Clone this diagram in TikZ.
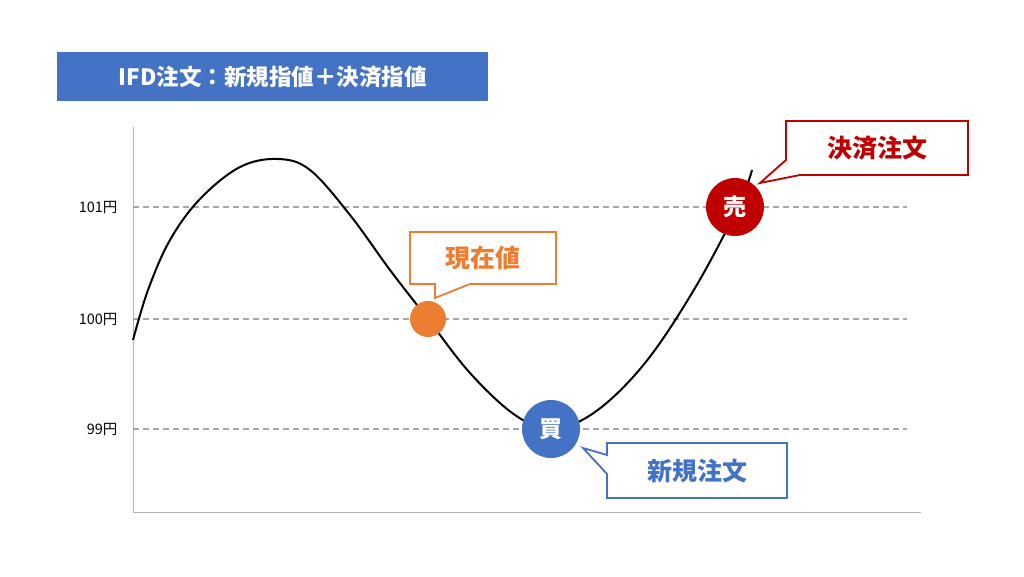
\documentclass[tikz,border=0pt]{standalone}
\usepackage{fontspec}
\setmainfont{Noto Sans CJK JP}
\definecolor{cblue}{HTML}{4472C4}
\definecolor{corange}{HTML}{ED7D31}
\definecolor{cred}{HTML}{C00000}
\begin{document}
\begin{tikzpicture}[x=1pt,y=-1pt,
  grid/.style={draw=gray!70,line width=1.5pt,dash pattern=on 6pt off 4pt},
  axis/.style={draw=gray!60,line width=1pt},
  ylab/.style={anchor=east,font=\fontsize{14.5}{14.5}\selectfont},
  callout/.style={fill=white,line width=1.8pt,line join=miter},
  ctext/.style={font=\bfseries\fontsize{25}{25}\selectfont},
  dot/.style={circle,minimum size=58pt,inner sep=0pt,text=white,font=\bfseries\fontsize{23}{23}\selectfont}]
\useasboundingbox (0,0) rectangle (1024,576);
\node[fill=cblue,minimum width=431pt,minimum height=49pt,anchor=north west,text=white,font=\bfseries\fontsize{22.5}{22.5}\selectfont] (title) at (57,52) {IFD注文：新規指値＋決済指値};
\coordinate (o) at (133,512);
\draw[axis] (133,127) -- (o) -- (921,512);
\foreach \y/\t/\n in {207/101/a,319/100/b,429/99/c}{
  \draw[grid] (133,\y) -- (907,\y);
  \node[ylab] (l\n) at (121,\y) {\t 円};
}
\draw[line width=2pt] plot[smooth,tension=0.6] coordinates {(133,340) (148,290) (170,240) (200,199) (240,167) (278,159) (310,170) (350,215) (390,270) (428,319) (470,373) (515,415) (552,429) (595,412) (645,363) (695,288) (738,207) (752,170)};
\draw[callout,draw=corange] (410,232) -- (556,232) -- (556,284) -- (470,284) -- (435,298) -- (435,284) -- (410,284) -- cycle;
\node[ctext,text=corange] (now) at (483,258) {現在値};
\draw[callout,draw=cblue] (607,443) -- (787,443) -- (787,498) -- (607,498) -- (607,474) -- (583,448) -- (607,455) -- cycle;
\node[ctext,text=cblue] (buyl) at (697,471) {新規注文};
\draw[callout,draw=cred] (786,121) -- (968,121) -- (968,175) -- (800,175) -- (760,183) -- (786,160) -- cycle;
\node[ctext,text=cred] (selll) at (877,148) {決済注文};
\node[circle,fill=corange,minimum size=36pt,inner sep=0pt] (cur) at (428,319) {};
\node[dot,fill=cblue] (buy) at (551,429) {買};
\node[dot,fill=cred] (sell) at (735,207) {売};
\end{tikzpicture}
\end{document}
